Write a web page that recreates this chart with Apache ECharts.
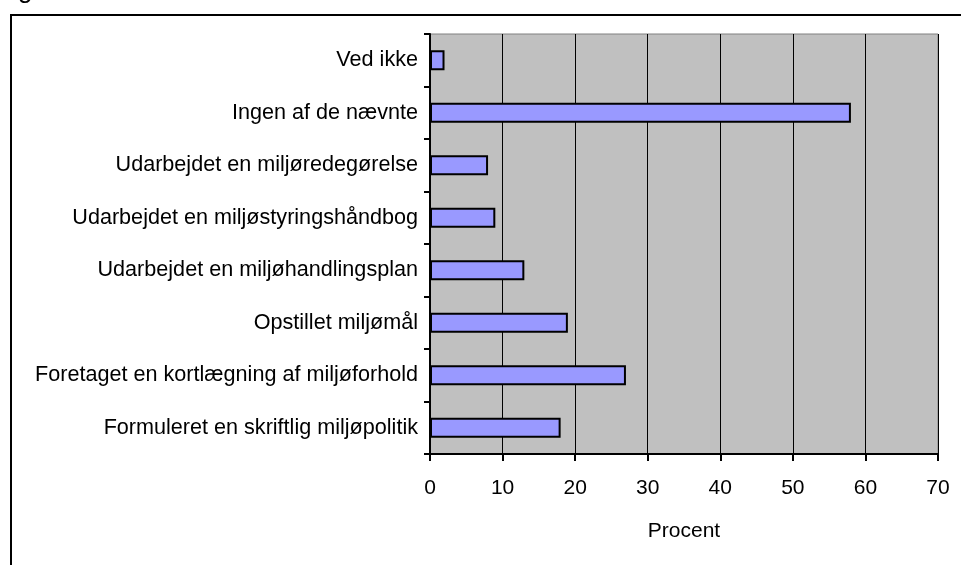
<!DOCTYPE html>
<html>
<head>
<meta charset="utf-8">
<script src="https://cdn.jsdelivr.net/npm/echarts@6/dist/echarts.min.js"></script>
<style>
  html, body { margin: 0; padding: 0; background: #fff; }
  #chart { width: 961px; height: 565px; }
</style>
</head>
<body>
<div id="chart"></div>
<script>
// categories listed top to bottom as in the picture
const categories = [
  'Ved ikke',
  'Ingen af de nævnte',
  'Udarbejdet en miljøredegørelse',
  'Udarbejdet en miljøstyringshåndbog',
  'Udarbejdet en miljøhandlingsplan',
  'Opstillet miljømål',
  'Foretaget en kortlægning af miljøforhold',
  'Formuleret en skriftlig miljøpolitik'
];
const percentValues = [2, 58, 8, 9, 13, 19, 27, 18];
const xTicks = { min: 0, max: 70, interval: 10 };

const chart = echarts.init(document.getElementById('chart'));
const font = 'Liberation Sans, Arial, sans-serif';

chart.setOption({
  animation: false,
  textStyle: { fontFamily: font },
  grid: {
    left: 430, right: 23, top: 34, bottom: 111,
    show: true,
    backgroundColor: '#c0c0c0',
    borderColor: '#808080',
    borderWidth: 1
  },
  graphic: [
    {
      type: 'rect',
      shape: { x: 11, y: 15, width: 1000, height: 600 },
      style: { fill: 'none', stroke: '#000', lineWidth: 2 },
      z: 0
    },
    {
      type: 'text',
      left: 18, top: -22,
      style: { text: 'g', font: '26px ' + font, fill: '#000' }
    }
  ],
  xAxis: {
    type: 'value',
    min: xTicks.min, max: xTicks.max, interval: xTicks.interval,
    name: 'Procent',
    nameLocation: 'middle',
    nameGap: 67,
    nameTextStyle: { fontSize: 21, color: '#000', fontFamily: font },
    axisLine: { show: true, lineStyle: { color: '#000', width: 2 } },
    axisTick: { show: true, length: 7, lineStyle: { color: '#000', width: 2 } },
    axisLabel: { fontSize: 21, color: '#000', margin: 24, fontFamily: font },
    splitLine: { show: true, lineStyle: { color: '#000', width: 1 } }
  },
  yAxis: {
    type: 'category',
    inverse: true,
    data: categories,
    axisLine: { show: true, lineStyle: { color: '#000', width: 2 } },
    axisTick: { show: true, length: 6, lineStyle: { color: '#000', width: 2 } },
    axisLabel: { fontSize: 21.6, color: '#000', margin: 12, fontFamily: font },
    splitLine: { show: false }
  },
  series: [{
    type: 'bar',
    data: percentValues,
    barWidth: 20,
    itemStyle: { color: '#9999ff', borderColor: '#000', borderWidth: 2 }
  }]
});
</script>
</body>
</html>
